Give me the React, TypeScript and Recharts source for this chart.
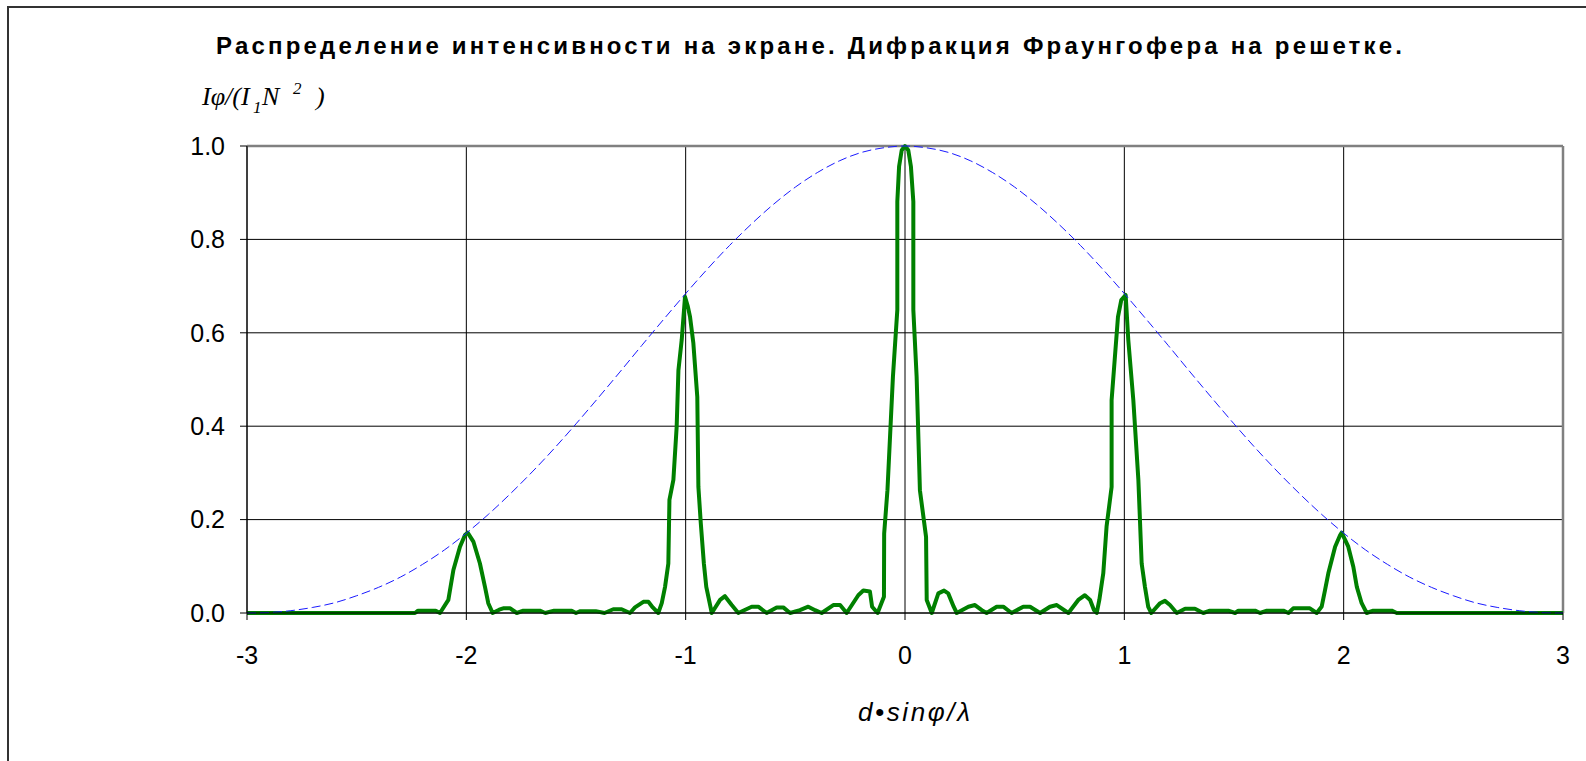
import React from "react";
import {
  LineChart,
  Line,
  XAxis,
  YAxis,
  CartesianGrid,
  ReferenceLine,
} from "recharts";

// x ticks and y ticks
const xTicks = [-3, -2, -1, 0, 1, 2, 3];
const yTicks = [0, 0.2, 0.4, 0.6, 0.8, 1.0];

// envelope (single slit), dashed blue
const envelopeX = [
  -3, -2.9, -2.8, -2.7, -2.6, -2.5, -2.4, -2.3, -2.2, -2.1, -2, -1.9, -1.8,
  -1.7, -1.6, -1.5, -1.4, -1.3, -1.2, -1.1, -1, -0.9, -0.8, -0.7, -0.6, -0.5,
  -0.4, -0.3, -0.2, -0.1, 0, 0.1, 0.2, 0.3, 0.4, 0.5, 0.6, 0.7, 0.8, 0.9, 1,
  1.1, 1.2, 1.3, 1.4, 1.5, 1.6, 1.7, 1.8, 1.9, 2, 2.1, 2.2, 2.3, 2.4, 2.5, 2.6,
  2.7, 2.8, 2.9, 3,
];
const envelopeY = [
  0, 0.001, 0.005, 0.012, 0.022, 0.037, 0.055, 0.077, 0.104, 0.135, 0.171,
  0.211, 0.255, 0.302, 0.352, 0.405, 0.46, 0.516, 0.573, 0.629, 0.684, 0.737,
  0.787, 0.833, 0.875, 0.912, 0.943, 0.968, 0.986, 0.996, 1.0, 0.996, 0.986,
  0.968, 0.943, 0.912, 0.875, 0.833, 0.787, 0.737, 0.684, 0.629, 0.573, 0.516,
  0.46, 0.405, 0.352, 0.302, 0.255, 0.211, 0.171, 0.135, 0.104, 0.077, 0.055,
  0.037, 0.022, 0.012, 0.005, 0.001, 0,
];

// grating intensity, green
const gratingX = [
  -3, -2.234, -2.22, -2.14, -2.12, -2.082, -2.059, -2.029, -2.006, -1.994,
  -1.968, -1.938, -1.915, -1.9, -1.88,
  -1.85, -1.832, -1.8, -1.77, -1.74, -1.665, -1.64, -1.6, -1.52, -1.5, -1.48,
  -1.41, -1.37, -1.33, -1.292, -1.254,
  -1.231, -1.193, -1.17, -1.15, -1.125, -1.109, -1.094, -1.079, -1.074,
  -1.056, -1.041, -1.033, -1.018, -1.003,
  -0.99, -0.98, -0.965, -0.947, -0.942, -0.931, -0.917, -0.906, -0.881,
  -0.843, -0.821, -0.79, -0.76, -0.699, -0.669, -0.631,
  -0.585, -0.555, -0.524, -0.479, -0.441, -0.41, -0.38, -0.327, -0.296,
  -0.266, -0.213, -0.19, -0.16, -0.15, -0.125,
  -0.096, -0.095, -0.08, -0.055, -0.035, -0.035, -0.027, -0.015, 0, 0.015,
  0.027, 0.038, 0.038, 0.053, 0.068, 0.096, 0.099, 0.122,
  0.152, 0.178, 0.197, 0.222, 0.236, 0.289, 0.319, 0.35, 0.372, 0.418, 0.448,
  0.486, 0.539, 0.57, 0.616, 0.661, 0.692, 0.745,
  0.79, 0.82, 0.844, 0.862, 0.874, 0.886, 0.904, 0.919, 0.942, 0.942, 0.956,
  0.971, 0.986, 1.006, 1.018, 1.041, 1.064, 1.079, 1.094, 1.109, 1.123,
  1.163, 1.185, 1.208, 1.239, 1.277, 1.322, 1.36, 1.39, 1.474, 1.505, 1.52,
  1.596, 1.619, 1.65, 1.725, 1.748, 1.77, 1.846, 1.877,
  1.9, 1.915, 1.93, 1.961, 1.984, 1.991, 2.021, 2.044, 2.06, 2.082, 2.105,
  2.135, 2.219, 2.242, 3,
];
const gratingY = [
  0, 0, 0.005, 0.005, 0, 0.028, 0.092, 0.142, 0.167, 0.172,
  0.153, 0.106, 0.056, 0.021, 0,
  0.007, 0.01, 0.01, 0, 0.005, 0.005, 0, 0.005, 0.005, 0, 0.004,
  0.004, 0, 0.008, 0.008, 0,
  0.012, 0.024, 0.024, 0.012, 0, 0.021, 0.056, 0.106, 0.242,
  0.285, 0.399, 0.52, 0.585, 0.677,
  0.656, 0.634, 0.578, 0.463, 0.27, 0.192, 0.106, 0.056, 0,
  0.028, 0.036, 0.017, 0, 0.0135, 0.0135, 0,
  0.012, 0.012, 0, 0.006, 0.0135, 0.006, 0, 0.017, 0.017,
  0, 0.038, 0.048, 0.046, 0.0135, 0,
  0.035, 0.17, 0.263, 0.506, 0.649, 0.881, 0.956, 0.991, 1.0, 0.991,
  0.956, 0.881, 0.649, 0.506, 0.263, 0.163, 0.028, 0,
  0.042, 0.048, 0.042, 0.0135, 0, 0.0135, 0.017, 0.006, 0, 0.0135, 0.0135,
  0, 0.0135, 0.0135, 0, 0.0135, 0.017, 0,
  0.028, 0.038, 0.028, 0.006, 0, 0.028, 0.085, 0.185, 0.27, 0.456, 0.542,
  0.634, 0.67, 0.681, 0.585, 0.456, 0.285, 0.106, 0.056, 0.013, 0,
  0.021, 0.026, 0.017, 0, 0.009, 0.009, 0, 0.005, 0.005, 0, 0.005,
  0.005, 0, 0.005, 0.005, 0, 0.01, 0.01, 0,
  0.014, 0.049, 0.085, 0.142, 0.167, 0.172, 0.142, 0.099, 0.056, 0.021, 0,
  0.005, 0.005, 0, 0,
];

const envelopeData = envelopeX.map((x, i) => ({ x, y: envelopeY[i] }));
const gratingData = gratingX.map((x, i) => ({ x, y: gratingY[i] }));

const W = 1586;
const H = 761;
const sans = "'Liberation Sans', Arial, sans-serif";
const serif = "'Liberation Serif', 'Times New Roman', serif";
const tickStyle = { fill: "#000", fontSize: 25, fontFamily: sans };

export default function App() {
  return (
    <div
      style={{
        position: "absolute",
        left: 0,
        top: 0,
        width: W,
        height: H,
        overflow: "hidden",
        background: "#fff",
      }}
    >
      <div
        style={{
          position: "absolute",
          left: 7,
          top: 6,
          width: 1700,
          height: 900,
          border: "2px solid #333",
        }}
      />
      <div style={{ position: "absolute", left: 0, top: 0 }}>
        <LineChart
          width={W}
          height={H}
          margin={{ top: 146, right: 23, left: 167, bottom: 108 }}
        >
          <CartesianGrid stroke="#000" strokeWidth={1} />
          <XAxis
            type="number"
            dataKey="x"
            domain={[-3, 3]}
            ticks={xTicks}
            allowDataOverflow
            height={40}
            tickSize={7}
            tickMargin={26}
            tick={tickStyle}
            axisLine={{ stroke: "#000" }}
            tickLine={{ stroke: "#000" }}
          />
          <YAxis
            type="number"
            domain={[0, 1]}
            ticks={yTicks}
            width={80}
            tickSize={7}
            tickMargin={15}
            tick={tickStyle}
            tickFormatter={(v) => Number(v).toFixed(1)}
            axisLine={{ stroke: "#000" }}
            tickLine={{ stroke: "#000" }}
          />
          <ReferenceLine y={1} stroke="#808080" strokeWidth={2.5} />
          <ReferenceLine x={3} stroke="#808080" strokeWidth={2.5} />
          <Line
            data={gratingData}
            dataKey="y"
            type="linear"
            stroke="#008000"
            strokeWidth={4}
            strokeLinejoin="round"
            dot={false}
            isAnimationActive={false}
          />
          <Line
            data={envelopeData}
            dataKey="y"
            type="monotone"
            stroke="#1a1aff"
            strokeWidth={1}
            strokeDasharray="9 4"
            dot={false}
            isAnimationActive={false}
          />
        </LineChart>
      </div>
      <svg
        width={W}
        height={H}
        style={{ position: "absolute", left: 0, top: 0, pointerEvents: "none" }}
      >
        <text
          x={216}
          y={54}
          fontFamily={sans}
          fontWeight="bold"
          fontSize={24}
          textLength={1186}
          lengthAdjust="spacing"
          fill="#000"
        >
          Распределение интенсивности на экране. Дифракция Фраунгофера на решетке.
        </text>
        <text
          x={202}
          y={105}
          fontFamily={serif}
          fontStyle="italic"
          fontSize={26}
          fill="#000"
        >
          Iφ/(I
          <tspan x={253} dy={8} fontSize={17}>1</tspan>
          <tspan x={262} dy={-8} fontSize={26}>N</tspan>
          <tspan x={293} dy={-11} fontSize={17}>2</tspan>
          <tspan x={316} dy={11} fontSize={26}>)</tspan>
        </text>
        <text
          x={858}
          y={721}
          fontFamily={sans}
          fontStyle="italic"
          fontSize={26}
          textLength={112}
          lengthAdjust="spacing"
          fill="#000"
        >
          d•sinφ/λ
        </text>
      </svg>
    </div>
  );
}
